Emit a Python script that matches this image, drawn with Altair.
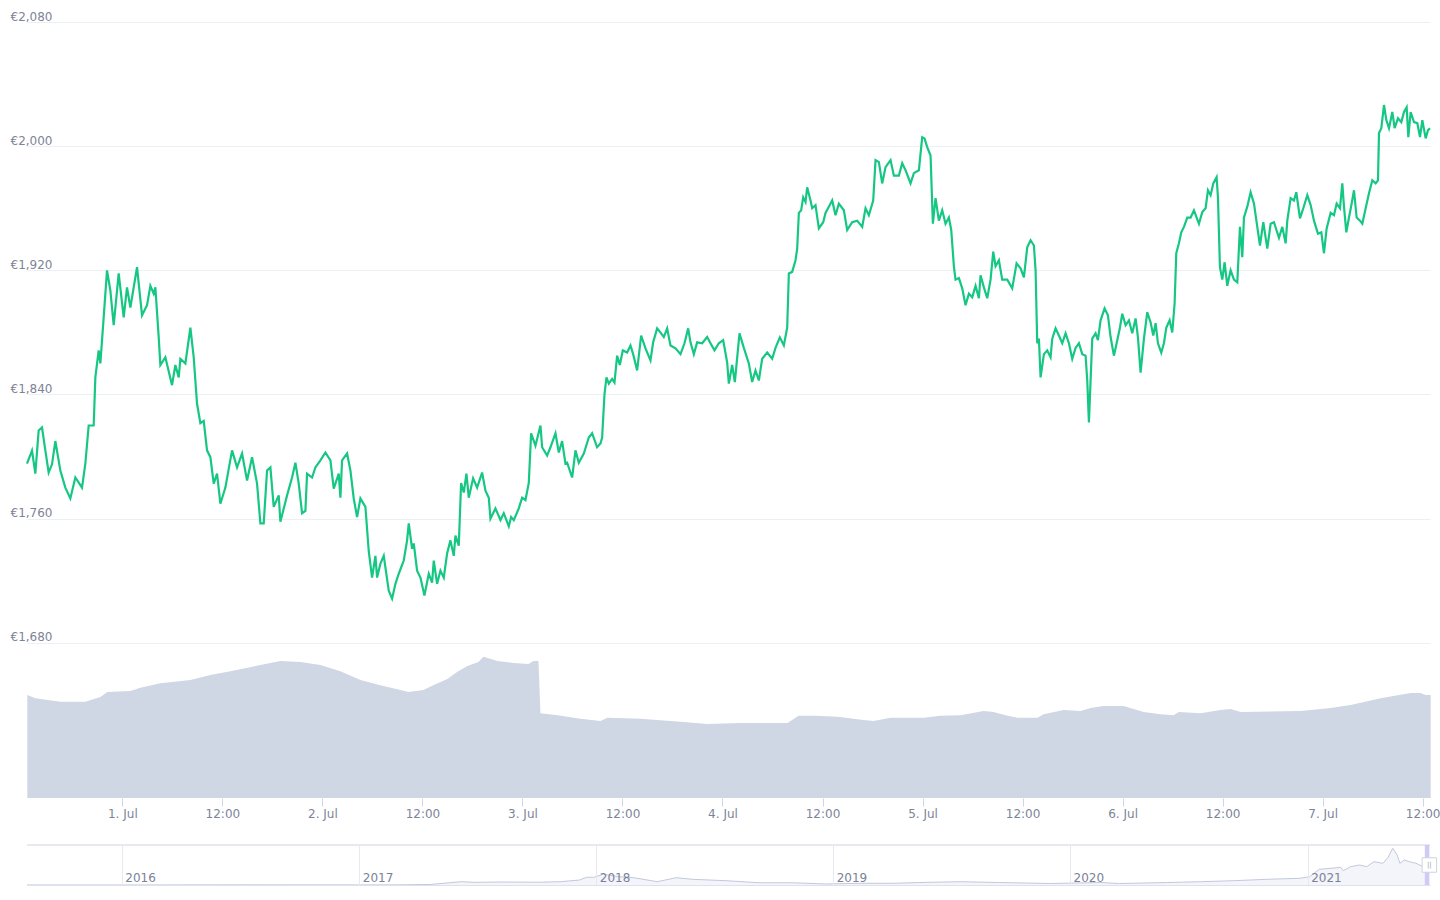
import altair as alt
import pandas as pd

# ---------------- data ----------------
# ETH price in EUR, hours after 2021-07-01 00:00 UTC
price_hours = [
    -11.44, -10.84, -10.44, -10.04, -9.64, -9.24, -8.84, -8.44, -8.04, -7.44,
    -6.84, -6.24, -5.64, -4.84, -4.44, -4.04, -3.44, -3.24, -2.84, -2.64,
    -2.24, -1.84, -1.44, -1.04, -0.44, 0.16, 0.56, 0.96, 1.76, 2.36,
    2.96, 3.36, 3.76, 3.96, 4.36, 4.56, 5.16, 5.96, 6.36, 6.76,
    6.96, 7.56, 8.16, 8.56, 8.96, 9.36, 9.76, 10.16, 10.56, 10.96,
    11.36, 11.76, 12.36, 13.16, 13.76, 14.36, 14.96, 15.56, 16.16, 16.56,
    16.96, 17.36, 17.76, 18.16, 18.76, 18.96, 19.76, 20.36, 20.76, 21.16,
    21.56, 21.96, 22.16, 22.76, 23.16, 23.76, 24.36, 24.96, 25.36, 25.96,
    26.16, 26.36, 26.96, 27.36, 27.76, 28.16, 28.56, 29.16, 29.56, 29.96,
    30.36, 30.56, 30.96, 31.36, 31.96, 32.36, 32.76, 33.16, 33.76, 34.16,
    34.36, 34.76, 34.96, 35.36, 35.76, 36.24, 36.76, 37.16, 37.36, 37.76,
    38.16, 38.56, 38.96, 39.36, 39.76, 39.96, 40.36, 40.64, 40.96, 41.28,
    41.56, 42.08, 42.56, 43.16, 43.56, 43.96, 44.16, 44.76, 45.36, 45.76,
    46.36, 46.64, 46.96, 47.56, 47.96, 48.36, 48.76, 49.04, 49.56, 50.16,
    50.36, 50.96, 51.36, 51.96, 52.36, 52.76, 53.16, 53.36, 53.96, 54.36,
    54.76, 55.36, 55.96, 56.36, 56.96, 57.36, 57.56, 57.84, 58.08, 58.36,
    58.76, 59.04, 59.36, 59.68, 60.04, 60.56, 60.96, 61.28, 61.76, 62.24,
    62.76, 63.36, 63.68, 64.16, 64.64, 64.96, 65.36, 65.76, 66.36, 66.96,
    67.44, 67.88, 68.16, 68.56, 68.96, 69.56, 70.16, 70.56, 71.04, 71.56,
    72.08, 72.56, 72.76, 73.16, 73.48, 74.04, 74.56, 75.16, 75.56, 75.96,
    76.36, 76.76, 77.36, 77.96, 78.36, 78.88, 79.36, 79.76, 79.96, 80.36,
    80.76, 80.96, 81.16, 81.44, 81.68, 81.96, 82.16, 82.56, 82.76, 83.16,
    83.56, 84.08, 84.36, 84.76, 85.16, 85.56, 85.96, 86.56, 86.96, 87.56,
    88.16, 88.76, 89.16, 89.56, 90.08, 90.36, 90.76, 91.16, 91.56, 92.16,
    92.56, 93.16, 93.56, 93.96, 94.56, 94.96, 95.56, 95.96, 96.24, 96.56,
    96.96, 97.24, 97.56, 97.96, 98.36, 98.76, 99.16, 99.44, 99.76, 99.96,
    100.36, 100.76, 101.16, 101.56, 101.96, 102.36, 102.76, 102.96, 103.36, 103.76,
    104.16, 104.48, 104.76, 105.16, 105.56, 106.16, 106.76, 107.28, 107.76, 108.16,
    108.56, 108.96, 109.36, 109.56, 109.76, 109.96, 110.16, 110.56, 110.96, 111.36,
    111.56, 111.96, 112.36, 112.76, 113.16, 113.56, 113.96, 114.36, 114.76, 115.16,
    115.56, 115.76, 115.96, 116.16, 116.36, 116.76, 117.04, 117.36, 117.84, 118.24,
    118.56, 118.96, 119.36, 119.68, 119.96, 120.36, 120.76, 121.16, 121.56, 121.84,
    122.16, 122.56, 122.96, 123.36, 123.68, 123.96, 124.24, 124.64, 124.96, 125.24,
    125.64, 125.96, 126.24, 126.44, 126.76, 127.04, 127.36, 127.76, 128.16, 128.56,
    129.16, 129.56, 129.96, 130.24, 130.56, 130.88, 131.28, 131.44, 131.68, 131.96,
    132.24, 132.56, 132.96, 133.36, 133.76, 134.08, 134.36, 134.56, 134.96, 135.36,
    135.76, 136.16, 136.48, 136.88, 137.36, 137.76, 138.16, 138.76, 139.16, 139.56,
    139.76, 140.16, 140.56, 140.84, 141.28, 141.68, 142.16, 142.56, 142.96, 143.44,
    143.84, 144.16, 144.48, 144.96, 145.36, 145.68, 146.08, 146.36, 146.56, 146.84,
    147.16, 147.48, 147.76, 148.08, 148.48, 148.76, 149.16, 149.56, 149.96, 150.36,
    150.64, 150.76, 151.04, 151.36, 151.64, 151.96, 152.36, 152.64, 153.04, 153.44,
    153.76, 154.08, 154.28, 154.56, 154.96, 155.36, 155.68, 155.96, 156.36, 156.64,
    156.88,
]
price_eur = [
    1795.5, 1803.9, 1789.0, 1816.8, 1818.7, 1804.0, 1789.7, 1795.0, 1810.0, 1791.0,
    1780.0, 1773.0, 1786.5, 1780.0, 1795.5, 1820.0, 1820.0, 1851.0, 1868.4, 1860.0,
    1889.7, 1920.0, 1907.0, 1884.6, 1918.0, 1889.7, 1909.0, 1896.0, 1922.0, 1891.0,
    1897.5, 1910.0, 1905.0, 1909.0, 1877.0, 1859.0, 1864.0, 1846.0, 1859.0, 1851.0,
    1863.0, 1860.0, 1883.0, 1864.0, 1834.0, 1821.5, 1823.0, 1804.0, 1799.6, 1782.6,
    1789.0, 1769.6, 1780.0, 1804.0, 1793.0, 1802.0, 1784.6, 1799.6, 1782.6, 1757.0,
    1757.0, 1791.0, 1793.0, 1767.6, 1775.0, 1758.0, 1775.0, 1786.5, 1796.0, 1782.6,
    1763.5, 1765.0, 1789.0, 1786.5, 1793.0, 1797.5, 1802.6, 1797.5, 1779.4, 1789.0,
    1773.5, 1797.5, 1802.0, 1791.0, 1773.0, 1761.0, 1773.0, 1767.6, 1739.0, 1722.0,
    1736.0, 1722.0, 1731.0, 1736.0, 1713.6, 1708.4, 1718.0, 1724.5, 1733.0, 1746.0,
    1757.0, 1740.6, 1744.0, 1726.5, 1722.0, 1710.5, 1724.5, 1718.7, 1733.0, 1718.0,
    1726.5, 1722.0, 1737.5, 1746.0, 1736.0, 1749.0, 1742.6, 1783.0, 1776.8, 1789.0,
    1773.5, 1786.0, 1780.0, 1789.7, 1778.0, 1773.5, 1760.0, 1766.6, 1759.0, 1763.5,
    1755.0, 1761.0, 1759.0, 1766.6, 1773.5, 1772.0, 1783.0, 1815.0, 1807.0, 1820.0,
    1806.0, 1800.6, 1806.0, 1815.0, 1802.6, 1810.0, 1795.5, 1796.0, 1786.5, 1804.0,
    1796.0, 1802.0, 1812.3, 1815.0, 1806.0, 1808.4, 1812.3, 1840.0, 1851.0, 1847.0,
    1850.0, 1847.7, 1865.0, 1859.0, 1868.4, 1867.0, 1871.6, 1866.0, 1855.5, 1878.0,
    1869.7, 1862.0, 1873.6, 1882.6, 1879.4, 1877.0, 1882.6, 1871.6, 1869.7, 1866.0,
    1873.0, 1882.6, 1873.6, 1866.0, 1873.6, 1873.0, 1877.0, 1873.0, 1868.4, 1873.0,
    1875.0, 1860.6, 1847.0, 1859.0, 1848.0, 1879.4, 1870.0, 1860.0, 1848.0, 1855.5,
    1849.0, 1863.0, 1867.0, 1863.0, 1870.0, 1876.8, 1871.6, 1883.0, 1918.0, 1919.0,
    1926.5, 1934.0, 1957.0, 1958.7, 1967.0, 1964.0, 1973.5, 1965.0, 1960.0, 1962.0,
    1947.0, 1951.0, 1957.0, 1961.0, 1965.0, 1955.5, 1963.0, 1958.7, 1946.0, 1951.0,
    1952.0, 1948.0, 1960.0, 1955.5, 1965.0, 1991.0, 1989.7, 1976.0, 1986.5, 1991.0,
    1981.0, 1981.0, 1989.0, 1984.5, 1976.0, 1982.6, 1984.5, 2005.8, 2005.0, 1999.4,
    1994.0, 1950.0, 1966.5, 1952.0, 1958.7, 1950.0, 1954.0, 1946.0, 1922.6, 1914.0,
    1915.0, 1908.4, 1897.5, 1905.0, 1902.6, 1910.0, 1902.0, 1916.8, 1909.0, 1902.0,
    1914.0, 1932.0, 1922.6, 1926.5, 1914.0, 1914.0, 1908.4, 1924.5, 1921.3, 1915.5,
    1934.8, 1939.4, 1936.0, 1920.0, 1873.0, 1876.0, 1851.0, 1866.0, 1868.4, 1864.0,
    1876.0, 1882.6, 1878.0, 1873.0, 1879.4, 1873.0, 1863.0, 1870.0, 1873.0, 1866.0,
    1865.0, 1849.0, 1822.0, 1849.0, 1876.0, 1879.4, 1875.0, 1887.8, 1895.5, 1891.0,
    1877.0, 1865.0, 1875.0, 1883.0, 1892.0, 1884.6, 1887.8, 1879.4, 1889.0, 1877.0,
    1854.0, 1876.0, 1893.0, 1886.5, 1878.0, 1886.0, 1873.0, 1867.0, 1873.0, 1883.0,
    1887.8, 1880.0, 1898.6, 1931.0, 1937.4, 1944.5, 1948.0, 1954.0, 1954.0, 1958.7,
    1950.0, 1957.5, 1960.0, 1971.6, 1968.4, 1976.0, 1980.0, 1967.0, 1922.0, 1914.0,
    1925.2, 1910.0, 1920.0, 1914.0, 1912.3, 1948.0, 1928.4, 1954.0, 1961.0, 1970.3,
    1963.0, 1948.0, 1936.0, 1951.0, 1934.0, 1950.0, 1951.0, 1941.0, 1948.0, 1937.4,
    1952.0, 1966.5, 1965.0, 1970.3, 1953.5, 1960.0, 1968.4, 1962.0, 1952.0, 1943.6,
    1944.5, 1931.0, 1947.0, 1957.0, 1955.5, 1963.0, 1960.0, 1976.0, 1961.0, 1944.5,
    1954.0, 1963.0, 1971.6, 1954.0, 1952.0, 1950.0, 1960.0, 1969.7, 1978.0, 1976.0,
    1978.0, 2008.4, 2011.6, 2026.5, 2016.8, 2011.6, 2022.0, 2011.6, 2018.0, 2015.5,
    2022.0, 2025.0, 2005.8, 2022.0, 2015.5, 2014.8, 2005.8, 2016.8, 2005.0, 2010.3,
    2011.6,
]

# 24h trading volume (billion EUR), hours after 2021-07-01 00:00 UTC
volume_hours = [
    -11.4, -10.44, -7.44, -4.44, -2.64, -1.8, 0.96, 2.16, 4.56, 8.16,
    10.56, 12.96, 16.56, 18.96, 21.36, 23.76, 26.16, 28.56, 30.96, 33.36,
    34.32, 36.12, 37.56, 39.0, 40.2, 41.4, 42.72, 43.32, 45.0, 46.92,
    48.72, 49.32, 49.92, 50.16, 52.2, 54.96, 57.36, 58.2, 62.16, 65.76,
    67.32, 70.2, 74.16, 79.8, 81.12, 83.16, 85.8, 88.92, 90.12, 92.16,
    96.12, 98.16, 100.56, 103.32, 104.52, 106.2, 107.4, 109.8, 110.52, 112.92,
    114.96, 116.16, 117.72, 120.12, 121.32, 122.52, 124.56, 126.12, 126.72, 129.36,
    131.76, 132.96, 134.16, 141.36, 144.96, 147.36, 150.96, 154.56, 155.76, 156.36,
    156.96,
]
volume_bn_eur = [
    19.9, 19.3, 18.6, 18.6, 19.5, 20.5, 20.7, 21.3, 22.2, 22.8,
    23.8, 24.5, 25.7, 26.5, 26.3, 25.7, 24.5, 22.8, 21.8, 20.9,
    20.5, 20.9, 22.0, 23.0, 24.4, 25.5, 26.3, 27.3, 26.5, 26.1,
    25.9, 26.5, 26.5, 16.4, 16.0, 15.3, 14.9, 15.5, 15.3, 14.9,
    14.7, 14.3, 14.5, 14.5, 15.9, 15.9, 15.7, 15.1, 14.9, 15.5,
    15.5, 15.9, 16.0, 16.8, 16.6, 15.9, 15.5, 15.5, 16.2, 17.0,
    16.8, 17.4, 17.8, 17.8, 17.2, 16.6, 16.2, 16.0, 16.6, 16.4,
    17.0, 17.2, 16.6, 16.8, 17.4, 18.0, 19.3, 20.3, 20.3, 19.9,
    19.9,
]

# Navigator: full price history (EUR)
nav_dates = [
    "2015-08-08", "2016-01-01", "2016-05-01", "2016-07-01", "2017-01-01", "2017-03-03",
    "2017-04-20", "2017-06-07", "2017-06-28", "2017-08-08", "2017-10-05", "2017-11-07",
    "2017-12-06", "2017-12-17", "2017-12-28", "2018-01-12", "2018-02-06", "2018-02-28",
    "2018-04-05", "2018-05-04", "2018-05-30", "2018-07-20", "2018-09-09", "2018-10-30",
    "2018-12-20", "2019-02-10", "2019-04-02", "2019-05-27", "2019-07-17", "2019-09-13",
    "2019-12-02", "2020-02-17", "2020-03-17", "2020-05-30", "2020-07-20", "2020-09-09",
    "2020-10-30", "2020-12-20", "2021-01-04", "2021-01-19", "2021-02-06", "2021-02-21",
    "2021-02-25", "2021-03-08", "2021-03-22", "2021-04-02", "2021-04-13", "2021-04-27",
    "2021-05-05", "2021-05-12", "2021-05-19", "2021-05-23", "2021-05-30", "2021-06-07",
    "2021-06-17", "2021-06-28", "2021-07-07",
]
nav_eur = [
    3, 1, 10, 14, 8, 15,
    50, 320, 260, 290, 270, 320,
    480, 745, 745, 1035, 800, 705,
    320, 705, 550, 415, 220, 220,
    97, 165, 165, 260, 320, 240,
    145, 240, 145, 240, 320, 415,
    550, 650, 800, 1520, 1615, 1710,
    1385, 1770, 1935, 1770, 2255, 2100,
    2680, 3550, 2900, 2100, 2420, 2255,
    2100, 1770, 2010,
]

price_ticks = [1680, 1760, 1840, 1920, 2000, 2080]
year_ticks = ["2016-01-01", "2017-01-01", "2018-01-01", "2019-01-01", "2020-01-01", "2021-01-01"]

# ---------------- helpers ----------------
EPOCH = pd.Timestamp("1970-01-01T00:00:00Z")
BASE = pd.Timestamp("2021-07-01T00:00:00Z")


def ms(ts):
    return int((ts - EPOCH) / pd.Timedelta(milliseconds=1))


def hours_to_ms(h):
    return ms(BASE + pd.Timedelta(hours=h))


def date_to_ms(s):
    return ms(pd.Timestamp(s + "T00:00:00Z"))


price_df = pd.DataFrame({"t": [hours_to_ms(h) for h in price_hours], "price": price_eur})
vol_df = pd.DataFrame({"t": [hours_to_ms(h) for h in volume_hours], "vol": volume_bn_eur})
nav_df = pd.DataFrame({"t": [date_to_ms(d) for d in nav_dates], "price": nav_eur})

x_domain = [int(price_df["t"].min()), int(price_df["t"].max())]
x_ticks = [hours_to_ms(12 * k) for k in range(14)]
year_tick_ms = [date_to_ms(d) for d in year_ticks]
nav_domain = [date_to_ms("2015-08-08"), ms(pd.Timestamp("2021-07-08T12:00:00Z"))]

FONT = "DejaVu Sans"
LABEL = "#7d8497"
GRID = "#eceff3"

W = 1403

x_main = alt.X(
    "t:T",
    title=None,
    scale=alt.Scale(type="utc", domain=x_domain, nice=False),
    axis=alt.Axis(
        values=x_ticks,
        labelExpr="utchours(datum.value) == 0 ? utcFormat(datum.value, '%-d. %b') : utcFormat(datum.value, '%H:%M')",
        grid=False, domain=False, ticks=True, tickSize=8, tickColor="#ccd6eb",
        labelPadding=2, labelAngle=0, labelColor=LABEL, labelFont=FONT, labelFontSize=12,
        labelOverlap=False,
    ),
)

volume = alt.Chart(vol_df).mark_area(color="#cfd6e4").encode(
    x=x_main,
    y=alt.Y("vol:Q", scale=alt.Scale(domain=[0, 150], nice=False), axis=None),
)

price = alt.Chart(price_df).mark_line(color="#16c784", strokeWidth=2.2).encode(
    x=x_main,
    y=alt.Y(
        "price:Q",
        title=None,
        scale=alt.Scale(domain=[1580, 2080], nice=False, zero=False),
        axis=alt.Axis(
            values=price_ticks,
            labelExpr="'€' + format(datum.value, ',')",
            orient="left", grid=True, gridColor=GRID, gridWidth=1,
            domain=False, ticks=False, tickSize=0,
            labelAlign="left", labelPadding=17, labelBaseline="alphabetic", labelOffset=-2,
            labelColor=LABEL, labelFont=FONT, labelFontSize=12,
        ),
    ),
)

main = alt.layer(volume, price).resolve_scale(y="independent").properties(width=W, height=776)

# ---------------- navigator ----------------
x_nav = alt.X(
    "t:T",
    title=None,
    scale=alt.Scale(type="utc", domain=nav_domain, nice=False),
    axis=alt.Axis(
        values=year_tick_ms,
        labelExpr="utcFormat(datum.value, '%Y')",
        grid=True, gridColor="#e6e9ef", domain=True, domainColor="#dde2ec",
        ticks=False, tickSize=0, labelAlign="left", labelOffset=3, labelPadding=-13,
        labelColor="#7b8296", labelFont=FONT, labelFontSize=12, zindex=1,
    ),
)
nav_y = alt.Y("price:Q", scale=alt.Scale(domain=[0, 3870], nice=False), axis=None)

nav_area = alt.Chart(nav_df).mark_area(color="#f3f5fa").encode(x=x_nav, y=nav_y)
nav_line = alt.Chart(nav_df).mark_line(color="#c3c9db", strokeWidth=1).encode(x=x_nav, y=nav_y)
nav_top = alt.Chart(nav_df).mark_rule(color="#e6e9ef").encode(y=alt.datum(3870))

sel_df = pd.DataFrame({"t": [x_domain[0]], "t2": [x_domain[1]]})
nav_sel = alt.Chart(sel_df).mark_rect(color="#cfcaf8").encode(
    x=alt.X("t:T", scale=alt.Scale(type="utc", domain=nav_domain, nice=False)),
    x2="t2:T",
    y=alt.datum(0),
    y2=alt.datum(3870),
)
handle_df = pd.DataFrame({"t": [x_domain[1]], "p": [1935]})
nav_handle = alt.Chart(handle_df).mark_point(
    shape="square", size=210, filled=True, fill="white", stroke="#cfd3dc", strokeWidth=1, opacity=1
).encode(x=alt.X("t:T"), y=alt.Y("p:Q"))
nav_grip = alt.Chart(handle_df).mark_text(text="||", fontSize=7, color="#9aa0b0", font=FONT).encode(
    x=alt.X("t:T"), y=alt.Y("p:Q")
)

navigator = alt.layer(nav_area, nav_line, nav_top, nav_sel, nav_handle, nav_grip).properties(width=W, height=40)

chart = (
    alt.vconcat(main, navigator, spacing=25)
    .properties(padding={"left": 10, "top": 10, "right": 0, "bottom": 0}, background="white")
    .configure_view(stroke=None)
)

chart.save("out.html", embed_options={"renderer": "svg", "actions": False})
